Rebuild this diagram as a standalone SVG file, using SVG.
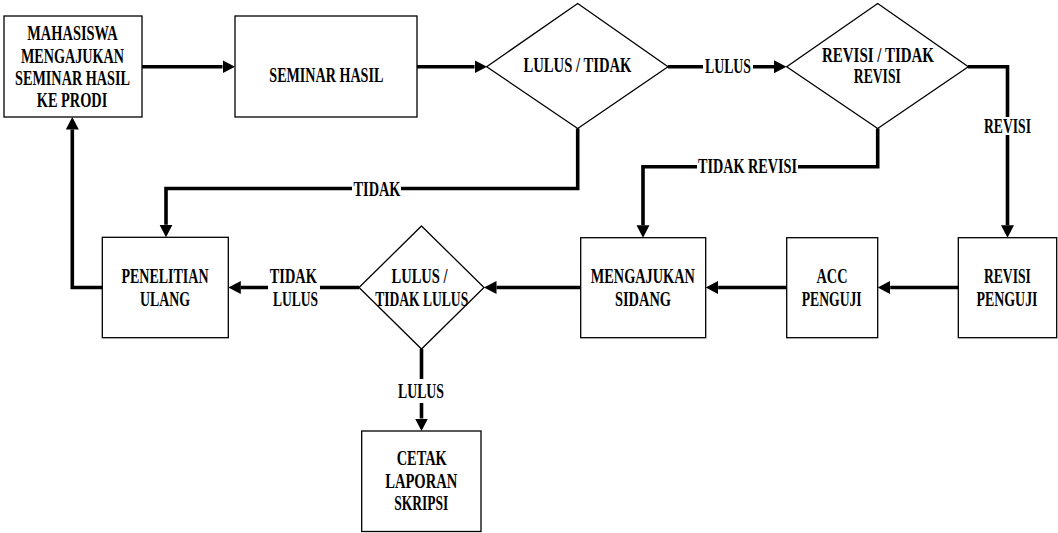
<svg xmlns="http://www.w3.org/2000/svg" width="1058" height="533" viewBox="0 0 1058 533">
<style>
.shape{fill:#fff;stroke:#000;stroke-width:1.3}
.conn{fill:none;stroke:#000;stroke-width:3.6;stroke-linejoin:miter}
.t{font-family:"Liberation Serif","Times New Roman",serif;font-weight:bold;font-size:20px;text-anchor:middle;fill:#000}
.bg{fill:#fff;stroke:none}
</style>
<defs>
<marker id="ah" markerUnits="userSpaceOnUse" viewBox="0 -7 13 14" refX="0" refY="0" markerWidth="13" markerHeight="14" orient="auto">
<path d="M0,-6.5 L12.5,0 L0,6.5 z" fill="#000"/>
</marker>
</defs>
<rect width="1058" height="533" fill="#fff"/>
<g id="connectors">
<path class="conn" d="M142,66.7 H222.5" marker-end="url(#ah)"/>
<path class="conn" d="M417,66.7 H474.5" marker-end="url(#ah)"/>
<path class="conn" d="M668,66.7 H774" marker-end="url(#ah)"/>
<path class="conn" d="M968,66.7 H1007.5 V225.2" marker-end="url(#ah)"/>
<path class="conn" d="M877.7,128.5 V166.7 H643 V225.2" marker-end="url(#ah)"/>
<path class="conn" d="M577.7,128.5 V188.5 H166 V224.8" marker-end="url(#ah)"/>
<path class="conn" d="M958.3,287.5 H890.2" marker-end="url(#ah)"/>
<path class="conn" d="M786.7,287.5 H718.2" marker-end="url(#ah)"/>
<path class="conn" d="M580.7,287.5 H496.5" marker-end="url(#ah)"/>
<path class="conn" d="M359,287.5 H240.8" marker-end="url(#ah)"/>
<path class="conn" d="M102.3,287.5 H72.3 V129.5" marker-end="url(#ah)"/>
<path class="conn" d="M421.5,349 V418.5" marker-end="url(#ah)"/>
<rect class="bg" x="703" y="58" width="50" height="16"/>
<text class="t" x="728" y="72.6" textLength="46" lengthAdjust="spacingAndGlyphs">LULUS</text>
<rect class="bg" x="983" y="117" width="49" height="18"/>
<text class="t" x="1007.5" y="132.6" textLength="47" lengthAdjust="spacingAndGlyphs">REVISI</text>
<rect class="bg" x="697" y="159" width="101" height="15"/>
<text class="t" x="747.5" y="173.3" textLength="99" lengthAdjust="spacingAndGlyphs">TIDAK REVISI</text>
<rect class="bg" x="352" y="181" width="49" height="15"/>
<text class="t" x="377" y="196" textLength="47" lengthAdjust="spacingAndGlyphs">TIDAK</text>
<rect class="bg" x="268" y="281" width="52" height="13"/>
<text class="t" x="293.3" y="283.1" textLength="47" lengthAdjust="spacingAndGlyphs">TIDAK</text>
<text class="t" x="295.5" y="305.6" textLength="45" lengthAdjust="spacingAndGlyphs">LULUS</text>
<rect class="bg" x="398" y="379" width="47" height="24"/>
<text class="t" x="421" y="397.6" textLength="46" lengthAdjust="spacingAndGlyphs">LULUS</text>
</g>
<g id="n1">
<rect class="shape" x="4" y="16" width="138" height="101"/>
<text class="t" x="72.5" y="40.3" textLength="90.5" lengthAdjust="spacingAndGlyphs">MAHASISWA</text>
<text class="t" x="72.5" y="62.6" textLength="103" lengthAdjust="spacingAndGlyphs">MENGAJUKAN</text>
<text class="t" x="72.5" y="85.1" textLength="115" lengthAdjust="spacingAndGlyphs">SEMINAR HASIL</text>
<text class="t" x="72" y="106.9" textLength="70.5" lengthAdjust="spacingAndGlyphs">KE PRODI</text>
</g>
<g id="n2">
<rect class="shape" x="235" y="16" width="182" height="101"/>
<text class="t" x="326.3" y="81.6" textLength="114" lengthAdjust="spacingAndGlyphs">SEMINAR HASIL</text>
</g>
<g id="d1">
<polygon class="shape" points="577.7,3.5 668,66.7 577.7,128.5 486.7,66.7"/>
<text class="t" x="577.5" y="72.3" textLength="108" lengthAdjust="spacingAndGlyphs">LULUS / TIDAK</text>
</g>
<g id="d2">
<polygon class="shape" points="877.7,3.5 968.3,66.7 877.7,128.5 786.7,66.7"/>
<text class="t" x="878" y="61.6" textLength="112" lengthAdjust="spacingAndGlyphs">REVISI / TIDAK</text>
<text class="t" x="877.3" y="83.3" textLength="47" lengthAdjust="spacingAndGlyphs">REVISI</text>
</g>
<g id="n_revisi">
<rect class="shape" x="958.3" y="237.7" width="98.4" height="100"/>
<text class="t" x="1007.4" y="283.1" textLength="47" lengthAdjust="spacingAndGlyphs">REVISI</text>
<text class="t" x="1007" y="305.6" textLength="61" lengthAdjust="spacingAndGlyphs">PENGUJI</text>
</g>
<g id="n_acc">
<rect class="shape" x="786.7" y="237.7" width="91" height="100"/>
<text class="t" x="832" y="283.1" textLength="31" lengthAdjust="spacingAndGlyphs">ACC</text>
<text class="t" x="831.7" y="305.6" textLength="60" lengthAdjust="spacingAndGlyphs">PENGUJI</text>
</g>
<g id="n_sidang">
<rect class="shape" x="580.7" y="237.7" width="125" height="100"/>
<text class="t" x="642.8" y="283.1" textLength="104" lengthAdjust="spacingAndGlyphs">MENGAJUKAN</text>
<text class="t" x="643" y="305.6" textLength="56" lengthAdjust="spacingAndGlyphs">SIDANG</text>
</g>
<g id="d3">
<polygon class="shape" points="421.5,226 484,287.5 421.5,349 359,287.5"/>
<text class="t" x="419.5" y="283.1" textLength="56" lengthAdjust="spacingAndGlyphs">LULUS /</text>
<text class="t" x="421.7" y="305.6" textLength="93" lengthAdjust="spacingAndGlyphs">TIDAK LULUS</text>
</g>
<g id="n_penelitian">
<rect class="shape" x="102.3" y="237.3" width="126" height="100.4"/>
<text class="t" x="165" y="283.1" textLength="87" lengthAdjust="spacingAndGlyphs">PENELITIAN</text>
<text class="t" x="165" y="305.6" textLength="50" lengthAdjust="spacingAndGlyphs">ULANG</text>
</g>
<g id="n_cetak">
<rect class="shape" x="361.7" y="431" width="119.3" height="100.5"/>
<text class="t" x="421.7" y="464.6" textLength="50" lengthAdjust="spacingAndGlyphs">CETAK</text>
<text class="t" x="421.2" y="488.3" textLength="72" lengthAdjust="spacingAndGlyphs">LAPORAN</text>
<text class="t" x="421.2" y="509.6" textLength="54" lengthAdjust="spacingAndGlyphs">SKRIPSI</text>
</g>
</svg>
